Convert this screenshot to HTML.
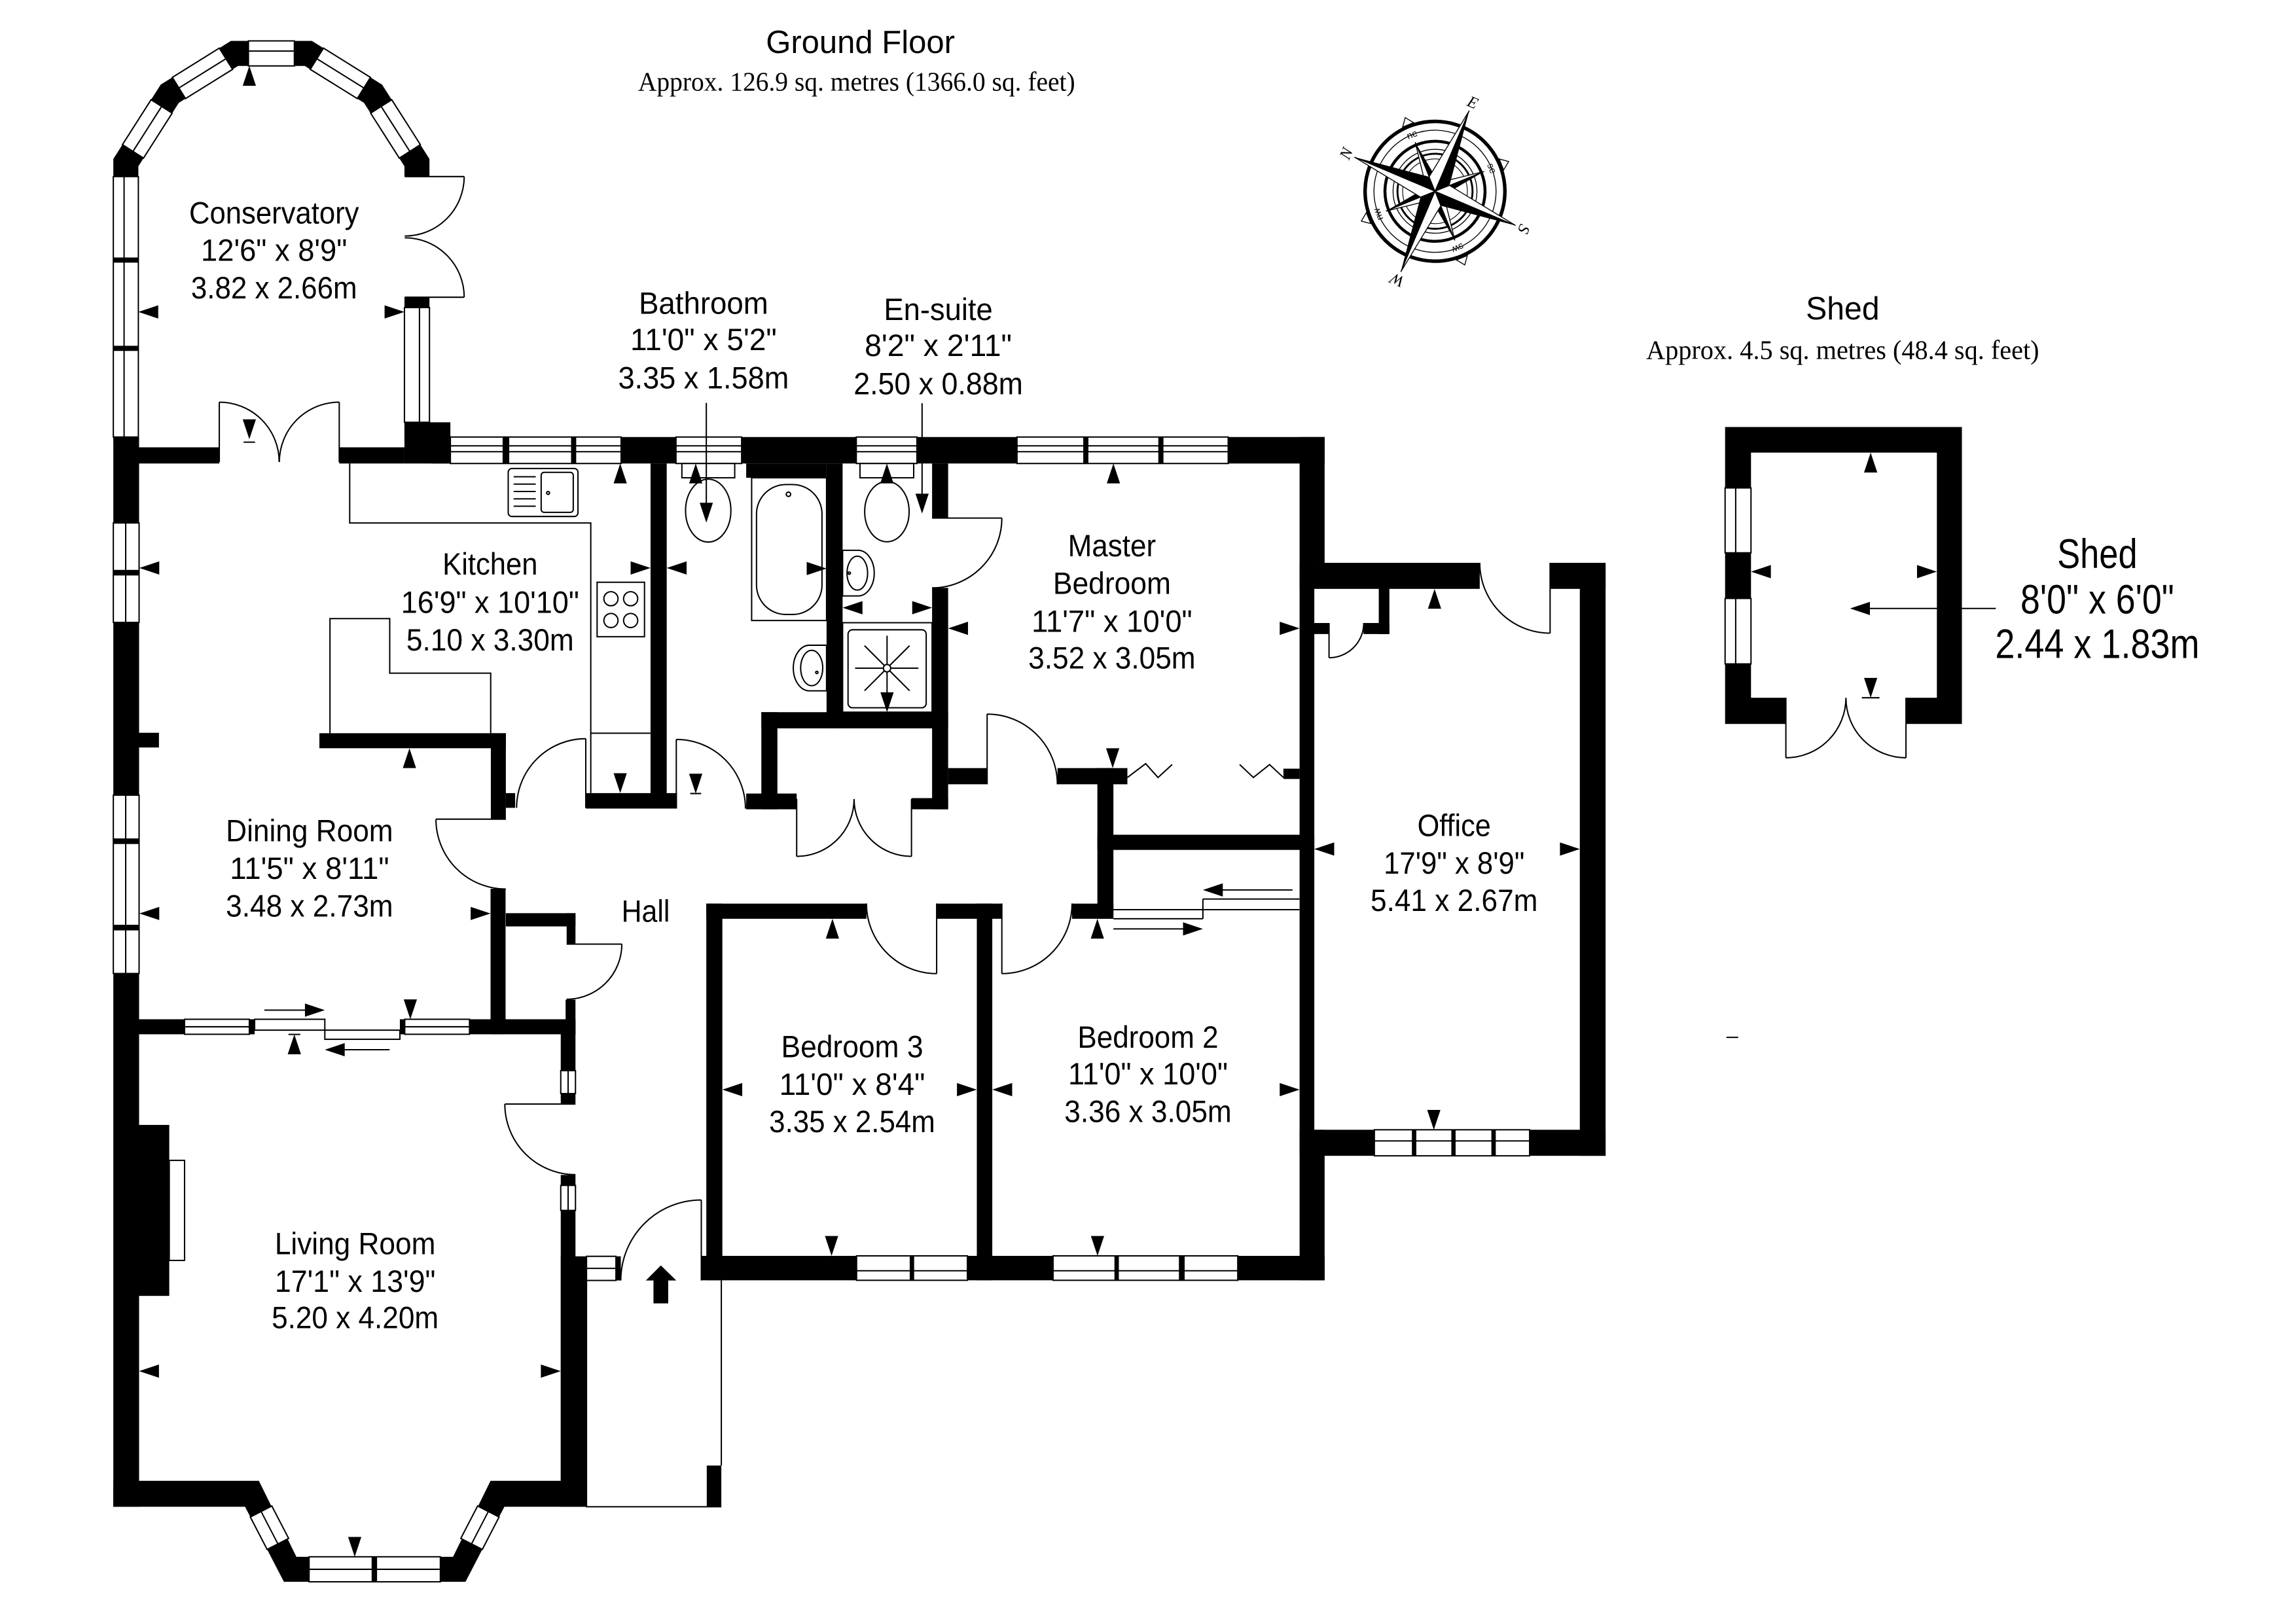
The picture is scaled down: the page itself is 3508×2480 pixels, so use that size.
<!DOCTYPE html>
<html>
<head>
<meta charset="utf-8">
<style>
html,body{margin:0;padding:0;background:#fff;}
svg{display:block;}
.win{fill:#fff;stroke:#000;stroke-width:.9}
.ln{fill:none;stroke:#000;stroke-width:.9}
.lw{fill:#fff;stroke:#000;stroke-width:.9}
text.t{font-family:"Liberation Sans",Arial,sans-serif;font-size:21px;text-anchor:middle;fill:#000}
text.s{font-family:"Liberation Serif","Times New Roman",serif;text-anchor:middle;fill:#000}
</style>
</head>
<body>
<svg width="3508" height="2480" viewBox="0 0 1560 1103" preserveAspectRatio="none">
<rect x="0" y="0" width="1560" height="1103" fill="#fff"/>

<!-- ===== WALLS ===== -->
<g fill="#000">
<polygon points="77,300 77,108 109.2,57.5 156.9,27.8 211.9,27.8 259.6,57.5 291.8,108 291.8,300 274.8,300 274.8,113 247.3,69.9 207.05,44.8 161.75,44.8 121.5,69.9 94,113 94,300"/>
<rect x="77" y="297" width="17.5" height="727"/>
<rect x="293" y="297" width="607" height="18"/>
<rect x="274.8" y="287" width="31.2" height="28"/>
<rect x="94" y="304" width="55" height="11"/>
<rect x="230.5" y="304" width="44.3" height="11"/>
<rect x="883" y="297" width="17" height="85.5"/>
<rect x="883" y="382.5" width="122.4" height="17.7"/>
<rect x="1053.2" y="382.5" width="37.7" height="17.7"/>
<rect x="1073.4" y="382.5" width="17.5" height="403"/>
<rect x="883" y="767.8" width="207.9" height="17.7"/>
<rect x="883" y="382.5" width="10" height="386"/>
<rect x="883" y="767.8" width="17" height="102.3"/>
<rect x="936.8" y="400" width="7.2" height="30.9"/>
<rect x="926.4" y="423.4" width="17.6" height="7.5"/>
<rect x="892.8" y="423.4" width="10.2" height="7.5"/>
<rect x="476.5" y="853.5" width="423.5" height="16.6"/>
<rect x="479.9" y="614.1" width="10.9" height="256"/>
<rect x="479.9" y="614.1" width="108.8" height="10.3"/>
<rect x="636.4" y="614.1" width="44.3" height="10.3"/>
<rect x="728.4" y="614.1" width="28.1" height="10.3"/>
<rect x="663.7" y="614.1" width="10.5" height="256"/>
<rect x="745.6" y="522" width="10.9" height="102.4"/>
<rect x="644.2" y="522" width="26.5" height="11"/>
<rect x="718.5" y="522" width="47.5" height="11"/>
<rect x="872" y="522.4" width="11" height="7"/>
<rect x="745.6" y="567.3" width="147.4" height="10.3"/>
<rect x="517.3" y="484" width="10.9" height="66"/>
<rect x="517.3" y="484" width="126.9" height="11"/>
<rect x="633.3" y="399.5" width="10.9" height="150.5"/>
<rect x="633.3" y="315" width="10.9" height="37.1"/>
<rect x="507" y="539.3" width="34.3" height="10.7"/>
<rect x="619.3" y="542.4" width="24.9" height="7.6"/>
<rect x="561.6" y="315" width="10.9" height="180"/>
<rect x="507" y="315" width="54.6" height="9.7"/>
<rect x="442" y="315" width="11" height="234.5"/>
<rect x="398" y="539" width="62" height="10.5"/>
<rect x="333.5" y="498.3" width="10.2" height="58.4"/>
<rect x="343.7" y="539" width="6.3" height="10"/>
<rect x="217" y="498.3" width="126.7" height="10.2"/>
<rect x="94.5" y="498" width="13.5" height="10"/>
<rect x="333.3" y="604" width="10.2" height="98.9"/>
<rect x="94.5" y="692.7" width="296.5" height="10.2"/>
<rect x="381" y="692.7" width="10" height="313.7"/>
<rect x="381" y="853.8" width="17.5" height="170.2"/>
<rect x="343.7" y="620.6" width="47.3" height="9"/>
<rect x="385" y="620.6" width="6" height="21"/>
<rect x="384.3" y="679.4" width="6.7" height="23.5"/>
<rect x="94.5" y="764.5" width="20.5" height="116.2"/>
<polygon points="77,1006.4 175.9,1006.4 201.4,1058 307.8,1058 333.3,1006.4 398.5,1006.4 398.5,1024 342.7,1024 316.3,1075 192.9,1075 166.5,1024 77,1024"/>
<rect x="418.5" y="853.8" width="3.3" height="16.4"/>
<rect x="480.2" y="996" width="9.9" height="28"/>
<rect x="1172.1" y="290.2" width="160.9" height="201.8"/>
</g>

<!-- openings -->
<g fill="#fff">
<rect x="1189.7" y="307.6" width="126.3" height="166.6"/>
<rect x="1213.4" y="473" width="81.6" height="20"/>
<rect x="274" y="120" width="18.6" height="82"/>
<rect x="380.5" y="750.3" width="11" height="48.2"/>
<rect x="173" y="692.2" width="98.7" height="11.2"/>
</g>

<!-- ===== WINDOWS ===== -->
<g class="win">
<rect x="77" y="120" width="17" height="177"/>
<rect x="274.8" y="209" width="17" height="78"/>
<rect x="168.8" y="27.8" width="31.2" height="17"/>
<polygon points="83.18,98.3 102.64,67.78 116.97,76.92 97.51,107.44"/>
<polygon points="117.09,52.58 149.01,32.71 157.99,47.14 126.07,67.01"/>
<polygon points="285.62,98.3 266.16,67.78 251.83,76.92 271.29,107.44"/>
<polygon points="251.71,52.58 219.79,32.71 210.81,47.14 242.73,67.01"/>
<rect x="77" y="355.4" width="17.5" height="67.6"/>
<rect x="77" y="540.4" width="17.5" height="121.2"/>
<rect x="306" y="297" width="116" height="18"/>
<rect x="459.3" y="297" width="44.6" height="18"/>
<rect x="581.8" y="297" width="41.2" height="18"/>
<rect x="691" y="297" width="143.5" height="18"/>
<rect x="933.8" y="767.8" width="105.5" height="17.7"/>
<rect x="582" y="853.5" width="75.3" height="16.6"/>
<rect x="715.5" y="853.5" width="125.5" height="16.6"/>
<rect x="125.4" y="692.7" width="44" height="10.2"/>
<rect x="275" y="692.7" width="44" height="10.2"/>
<rect x="381" y="727.6" width="10" height="15.6"/>
<rect x="381" y="805.6" width="10" height="17"/>
<rect x="398.5" y="853.8" width="20" height="16.4"/>
<rect x="1172.1" y="331.6" width="17.6" height="44.1"/>
<rect x="1172.1" y="406.7" width="17.6" height="44.5"/>
<rect x="210" y="1058" width="89.2" height="17"/>
<polygon points="170.1,1031 181.5,1053 196.1,1045.5 184.7,1023.5"/>
<polygon points="339.1,1031 327.7,1053 313.1,1045.5 324.5,1023.5"/>
<rect x="173" y="692.7" width="47.7" height="7.4"/>
<rect x="220.7" y="700.1" width="51" height="6.2"/>
</g>

<path class="ln" d="M84.3,120V297 M285,209V287 M168.8,34.7H200 M90.35,102.87L109.81,72.35 M121.58,59.79L153.5,39.92 M278.45,102.87L258.99,72.35 M247.22,59.79L215.3,39.92 M85.4,355.4V423 M85.4,540.4V661.6 M306,303H422 M306,307H422 M459.3,303H503.9 M459.3,307H503.9 M581.8,303H623 M581.8,307H623 M691,303H834.5 M691,307H834.5 M933.8,775.4H1039.3 M582,863.6H657.3 M715.5,863.6H841 M125.4,697.8H169.4 M275,697.8H319 M386,727.6V743.2 M386,805.6V822.6 M398.5,862H418.5 M1179.3,331.6V375.7 M1179.3,406.7V451.2 M210,1066.5H299.2 M177.4,1027.2L188.8,1049.2 M331.8,1027.2L320.4,1049.2"/>

<!-- mullions -->
<g fill="#000">
<rect x="77" y="175" width="17" height="3.5"/>
<rect x="77" y="235" width="17" height="3.5"/>
<rect x="77" y="387.3" width="17.5" height="3.8"/>
<rect x="77" y="569.8" width="17.5" height="3.8"/>
<rect x="77" y="628.5" width="17.5" height="3.8"/>
<rect x="341.5" y="297" width="4.5" height="18"/>
<rect x="388" y="297" width="3.5" height="18"/>
<rect x="736" y="297" width="3.5" height="18"/>
<rect x="787" y="297" width="3.5" height="18"/>
<rect x="959.3" y="767.8" width="3" height="17.7"/>
<rect x="986.1" y="767.8" width="2.9" height="17.7"/>
<rect x="1013.3" y="767.8" width="3" height="17.7"/>
<rect x="618.1" y="853.5" width="3" height="16.6"/>
<rect x="757.2" y="853.5" width="3" height="16.6"/>
<rect x="801" y="853.5" width="3.9" height="16.6"/>
<rect x="252.5" y="1058" width="3.7" height="17"/>
<rect x="169.4" y="692.7" width="3.6" height="10.2"/>
<rect x="271.7" y="692.7" width="3.3" height="10.2"/>
</g>

<!-- ===== DOORS ===== -->
<path class="ln" d="M275,120H315.4 M315.4,120A40.4,40.4 0 0 1 275,160.4
M275,202H315.4 M315.4,202A40.4,40.4 0 0 0 275,161.6
M149,314V273.3 M149,273.3A40.7,40.7 0 0 1 189.7,314
M230.5,314V273.3 M230.5,273.3A40.7,40.7 0 0 0 189.8,314
M343.7,556.7H296.2 M296.2,556.7A47.5,47.5 0 0 0 343.7,604.2
M398,549V502 M398,502A47,47 0 0 0 351,549
M459.5,549.5V502.5 M459.5,502.5A47,47 0 0 1 506.5,549.5
M541.3,543V582 M541.3,582A39,39 0 0 0 580.3,543
M619.3,543V582 M619.3,582A39,39 0 0 1 580.3,543
M670.7,533V485.3 M670.7,485.3A47.7,47.7 0 0 1 718.4,533
M633.3,352.1H680.7 M680.7,352.1A47.4,47.4 0 0 1 633.3,399.5
M636.4,614V661.7 M636.4,661.7A47.7,47.7 0 0 1 588.7,614
M680.7,614V661.7 M680.7,661.7A47.7,47.7 0 0 0 728.4,614
M385,641.6H422.5 M422.5,641.6A37.5,37.5 0 0 1 385,679.1
M391,750.3H343 M343,750.3A48,48 0 0 0 391,798.3
M476.5,870.2V815.5 M476.5,815.5A54.7,54.7 0 0 0 421.8,870.2
M1053.2,382.5V430.3 M1053.2,430.3A47.8,47.8 0 0 1 1005.4,382.5
M903,423.4V447 M903,447A23.6,23.6 0 0 0 926.6,423.4
M1213.4,474.2V515 M1213.4,515A40.8,40.8 0 0 0 1254.2,474.2
M1295,474.2V515 M1295,515A40.8,40.8 0 0 1 1254.2,474.2"/>

<!-- ===== FIXTURES ===== -->
<path class="ln" d="M237.6,315V355.4H401.4V539 M401.4,498.3H442 M224.2,498.3V420.4H264.8V457.5H333.4V498.3"/>
<rect class="lw" x="345.3" y="318.4" width="47.4" height="32.6" rx="2.5"/>
<rect class="lw" x="367.7" y="321" width="21.8" height="27.2" rx="2"/>
<path class="ln" d="M349,324H364 M349,329H364 M349,334H364 M349,339H364 M349,344H364"/>
<circle class="ln" cx="372.4" cy="335" r="1"/>
<rect class="lw" x="405.7" y="395.7" width="32.2" height="37"/>
<circle class="ln" cx="415.1" cy="406.9" r="4.8"/>
<circle class="ln" cx="428.5" cy="406.9" r="4.8"/>
<circle class="ln" cx="415.1" cy="421.7" r="4.8"/>
<circle class="ln" cx="428.5" cy="421.7" r="4.8"/>
<!-- bathroom -->
<rect class="lw" x="463.3" y="315" width="35.9" height="9.7"/>
<ellipse class="lw" cx="481.2" cy="347" rx="15.4" ry="21.4"/>
<rect class="lw" x="510.7" y="324.7" width="50.9" height="97"/>
<rect class="lw" x="514" y="329.3" width="44.5" height="88.3" rx="20"/>
<circle class="ln" cx="535.7" cy="335.9" r="1.5"/>
<path class="lw" d="M561.6,438.5H550A11,15.5 0 0 0 550,469.5H561.6Z"/>
<ellipse class="ln" cx="551.5" cy="454" rx="7.5" ry="12"/>
<circle class="ln" cx="555" cy="457" r=".8"/>
<!-- ensuite -->
<rect class="lw" x="584.3" y="315" width="36.5" height="9.7"/>
<ellipse class="lw" cx="602.6" cy="347.7" rx="15.1" ry="20.5"/>
<path class="lw" d="M572.5,374H583A11,15.5 0 0 1 583,405H572.5Z"/>
<ellipse class="ln" cx="582.5" cy="389.5" rx="7" ry="11.5"/>
<circle class="ln" cx="577" cy="389.5" r=".8"/>
<rect class="lw" x="572.5" y="423.2" width="60.8" height="60.8"/>
<rect class="ln" x="576.2" y="428" width="53.1" height="53" rx="3"/>
<circle class="ln" cx="602.7" cy="454.1" r="2.5"/>
<path class="ln" d="M605.5,454.1H624 M599.9,454.1H581 M602.7,451.3V432 M602.7,456.9V476 M604.7,452.1L618,438.8 M600.7,452.1L587.4,438.8 M604.7,456.1L618,469.4 M600.7,456.1L587.4,469.4"/>
<!-- fireplace hearth -->
<rect class="lw" x="115" y="788.6" width="10.4" height="68"/>
<!-- porch, wardrobes, closets, leaders -->
<path class="ln" d="M398.5,870.2V1024H490.1 M490.1,870.2V996
M766,528.4L778.4,519L786.8,528.4L796.4,519.6 M842.3,519.6L851.6,528.4L862.6,519.6L872,528.4
M817.3,611H882.9 M817.3,611V624.4 M756.5,618.2H882.9 M756.5,624.4H817.3
M878.2,604.8H830 M756.5,631.3H804 M179.6,686.5H208 M234,713.4H264.7
M479.9,273.8V342 M626.5,274V336 M1270,413.5H1356
M165.5,300.5H173.3 M469,539.3H476.4 M196,703H204 M1265,474.2H1277 M1173,705H1181"/>

<!-- ===== ARROWS ===== -->
<g fill="#000">
<polygon points="169.4,44.8 164.9,58.3 173.9,58.3"/>
<polygon points="94,212 107.5,207.5 107.5,216.5"/>
<polygon points="274.8,212 261.3,207.5 261.3,216.5"/>
<polygon points="169.4,298.5 164.9,285 173.9,285"/>
<polygon points="421.4,315 416.9,328.5 425.9,328.5"/>
<polygon points="94.7,386 108.2,381.5 108.2,390.5"/>
<polygon points="442,386 428.5,381.5 428.5,390.5"/>
<polygon points="421.4,539 416.9,525.5 425.9,525.5"/>
<polygon points="453,386 466.5,381.5 466.5,390.5"/>
<polygon points="472.7,315 468.2,328.5 477.2,328.5"/>
<polygon points="479.9,355.2 475.4,341.7 484.4,341.7"/>
<polygon points="561.6,386.4 548.1,381.9 548.1,390.9"/>
<polygon points="472.7,539.3 468.2,525.8 477.2,525.8"/>
<polygon points="602.6,315 598.1,328.5 607.1,328.5"/>
<polygon points="626.5,349 622,335.5 631,335.5"/>
<polygon points="572.5,413 586,408.5 586,417.5"/>
<polygon points="633.3,413 619.8,408.5 619.8,417.5"/>
<polygon points="602.7,484 598.2,470.5 607.2,470.5"/>
<polygon points="756.5,315 752,328.5 761,328.5"/>
<polygon points="644.2,427 657.7,422.5 657.7,431.5"/>
<polygon points="883,427 869.5,422.5 869.5,431.5"/>
<polygon points="756,522 751.5,508.5 760.5,508.5"/>
<polygon points="974.7,400.2 970.2,413.7 979.2,413.7"/>
<polygon points="893,577 906.5,572.5 906.5,581.5"/>
<polygon points="1073.4,577 1059.9,572.5 1059.9,581.5"/>
<polygon points="974.2,767.8 969.7,754.3 978.7,754.3"/>
<polygon points="278.2,508.5 273.7,522 282.7,522"/>
<polygon points="94.7,620.8 108.2,616.3 108.2,625.3"/>
<polygon points="333.3,620.8 319.8,616.3 319.8,625.3"/>
<polygon points="278.8,692.7 274.3,679.2 283.3,679.2"/>
<polygon points="200,703 195.5,716.5 204.5,716.5"/>
<polygon points="94.5,931.8 108,927.3 108,936.3"/>
<polygon points="381,931.8 367.5,927.3 367.5,936.3"/>
<polygon points="241,1058 236.5,1044.5 245.5,1044.5"/>
<polygon points="565.6,624.4 561.1,637.9 570.1,637.9"/>
<polygon points="490.8,740.5 504.3,736 504.3,745"/>
<polygon points="663.7,740.5 650.2,736 650.2,745"/>
<polygon points="565,853.5 560.5,840 569.5,840"/>
<polygon points="745.6,624.4 741.1,637.9 750.1,637.9"/>
<polygon points="674.2,740.5 687.7,736 687.7,745"/>
<polygon points="883,740.5 869.5,736 869.5,745"/>
<polygon points="745.7,853.5 741.2,840 750.2,840"/>
<polygon points="1271,307.6 1266.5,321.1 1275.5,321.1"/>
<polygon points="1189.7,388.5 1203.2,384 1203.2,393"/>
<polygon points="1316,388.5 1302.5,384 1302.5,393"/>
<polygon points="1271,474.2 1266.5,460.7 1275.5,460.7"/>
<polygon points="1257,413.5 1270.5,409 1270.5,418"/>
<polygon points="817.3,604.8 830.8,600.3 830.8,609.3"/>
<polygon points="817.3,631.3 803.8,626.8 803.8,635.8"/>
<polygon points="220.7,686.5 207.2,682 207.2,691"/>
<polygon points="220.7,713.4 234.2,708.9 234.2,717.9"/>
<polygon points="449,860 438.8,870.2 444,870.2 444,885.8 454,885.8 454,870.2 459.5,870.2"/>
</g>

<!-- ===== COMPASS ===== -->
<g transform="translate(975,130) rotate(-67)">
<circle r="47.5" fill="#fff" stroke="#000" stroke-width="2.4"/>
<circle r="41.5" fill="none" stroke="#000" stroke-width="0.6"/>
<circle r="34" fill="none" stroke="#000" stroke-width="2"/>
<circle r="28.5" fill="none" stroke="#000" stroke-width="0.6"/>
<circle r="25.5" fill="none" stroke="#000" stroke-width="1.3"/>
<circle r="22" fill="none" stroke="#000" stroke-width="0.5"/>
<g fill="#fff" stroke="#000" stroke-width="0.6">
<polygon transform="rotate(45)" points="-4,-48.7 4,-48.7 0,-54"/>
<polygon transform="rotate(135)" points="-4,-48.7 4,-48.7 0,-54"/>
<polygon transform="rotate(225)" points="-4,-48.7 4,-48.7 0,-54"/>
<polygon transform="rotate(315)" points="-4,-48.7 4,-48.7 0,-54"/>
</g>
<g transform="rotate(45)"><polygon points="0,0 0,-36 4.5,-5" fill="#000"/><polygon points="0,0 0,-36 -4.5,-5" fill="#fff" stroke="#000" stroke-width="0.6"/></g>
<g transform="rotate(135)"><polygon points="0,0 0,-36 4.5,-5" fill="#000"/><polygon points="0,0 0,-36 -4.5,-5" fill="#fff" stroke="#000" stroke-width="0.6"/></g>
<g transform="rotate(225)"><polygon points="0,0 0,-36 4.5,-5" fill="#000"/><polygon points="0,0 0,-36 -4.5,-5" fill="#fff" stroke="#000" stroke-width="0.6"/></g>
<g transform="rotate(315)"><polygon points="0,0 0,-36 4.5,-5" fill="#000"/><polygon points="0,0 0,-36 -4.5,-5" fill="#fff" stroke="#000" stroke-width="0.6"/></g>
<g transform="rotate(0)"><polygon points="0,0 0,-59.5 7.5,-7.5" fill="#000"/><polygon points="0,0 0,-59.5 -7.5,-7.5" fill="#fff" stroke="#000" stroke-width="0.6"/></g>
<g transform="rotate(90)"><polygon points="0,0 0,-59.5 7.5,-7.5" fill="#000"/><polygon points="0,0 0,-59.5 -7.5,-7.5" fill="#fff" stroke="#000" stroke-width="0.6"/></g>
<g transform="rotate(180)"><polygon points="0,0 0,-59.5 7.5,-7.5" fill="#000"/><polygon points="0,0 0,-59.5 -7.5,-7.5" fill="#fff" stroke="#000" stroke-width="0.6"/></g>
<g transform="rotate(270)"><polygon points="0,0 0,-59.5 7.5,-7.5" fill="#000"/><polygon points="0,0 0,-59.5 -7.5,-7.5" fill="#fff" stroke="#000" stroke-width="0.6"/></g>
<g font-family="Liberation Serif, serif" font-style="italic" font-size="11" text-anchor="middle">
<text x="0" y="-62">N</text>
<text x="0" y="-62" transform="rotate(90)">E</text>
<text x="0" y="-62" transform="rotate(180)">S</text>
<text x="0" y="-62" transform="rotate(270)">W</text>
</g>
<g font-family="Liberation Sans, sans-serif" font-size="6.5" text-anchor="middle">
<text x="0" y="-39.5" transform="rotate(45)">ne</text>
<text x="0" y="-39.5" transform="rotate(135)">se</text>
<text x="0" y="-39.5" transform="rotate(225)">sw</text>
<text x="0" y="-39.5" transform="rotate(315)">nw</text>
</g>
</g>

<!-- ===== TITLES ===== -->
<text class="t" x="584.6" y="36" style="font-size:22px" textLength="128.4" lengthAdjust="spacingAndGlyphs">Ground Floor</text>
<text class="s" x="582" y="61.5" font-size="18.5" textLength="297" lengthAdjust="spacingAndGlyphs">Approx. 126.9 sq. metres (1366.0 sq. feet)</text>
<text class="t" x="1252" y="217" style="font-size:22px" textLength="50" lengthAdjust="spacingAndGlyphs">Shed</text>
<text class="s" x="1252" y="244" font-size="18.5" textLength="267" lengthAdjust="spacingAndGlyphs">Approx. 4.5 sq. metres (48.4 sq. feet)</text>

<!-- ===== ROOM LABELS ===== -->
<text class="t" x="186.2" y="151.8" textLength="115.4" lengthAdjust="spacingAndGlyphs">Conservatory</text>
<text class="t" x="186.2" y="177.2" textLength="99.3" lengthAdjust="spacingAndGlyphs">12'6&quot; x 8'9&quot;</text>
<text class="t" x="186.2" y="202.8" textLength="112.8" lengthAdjust="spacingAndGlyphs">3.82 x 2.66m</text>

<text class="t" x="478" y="213.3" textLength="88" lengthAdjust="spacingAndGlyphs">Bathroom</text>
<text class="t" x="478" y="238" textLength="99.5" lengthAdjust="spacingAndGlyphs">11'0&quot; x 5'2&quot;</text>
<text class="t" x="478" y="264" textLength="116" lengthAdjust="spacingAndGlyphs">3.35 x 1.58m</text>

<text class="t" x="637.5" y="217.5" textLength="74" lengthAdjust="spacingAndGlyphs">En-suite</text>
<text class="t" x="637.5" y="242" textLength="100" lengthAdjust="spacingAndGlyphs">8'2&quot; x 2'11&quot;</text>
<text class="t" x="637.5" y="268" textLength="115" lengthAdjust="spacingAndGlyphs">2.50 x 0.88m</text>

<text class="t" x="333" y="390.6" textLength="64.6" lengthAdjust="spacingAndGlyphs">Kitchen</text>
<text class="t" x="333" y="416.6" textLength="121" lengthAdjust="spacingAndGlyphs">16'9&quot; x 10'10&quot;</text>
<text class="t" x="333" y="442.1" textLength="113.8" lengthAdjust="spacingAndGlyphs">5.10 x 3.30m</text>

<text class="t" x="755.5" y="378" textLength="59.8" lengthAdjust="spacingAndGlyphs">Master</text>
<text class="t" x="755.5" y="403.6" textLength="80.1" lengthAdjust="spacingAndGlyphs">Bedroom</text>
<text class="t" x="755.5" y="429.5" textLength="109.2" lengthAdjust="spacingAndGlyphs">11'7&quot; x 10'0&quot;</text>
<text class="t" x="755.5" y="454.4" textLength="113.6" lengthAdjust="spacingAndGlyphs">3.52 x 3.05m</text>

<text class="t" x="210.3" y="571.8" textLength="113.6" lengthAdjust="spacingAndGlyphs">Dining Room</text>
<text class="t" x="210.3" y="597.3" textLength="108.2" lengthAdjust="spacingAndGlyphs">11'5&quot; x 8'11&quot;</text>
<text class="t" x="210.3" y="622.9" textLength="113.6" lengthAdjust="spacingAndGlyphs">3.48 x 2.73m</text>

<text class="t" x="438.7" y="626.4" textLength="32.8" lengthAdjust="spacingAndGlyphs">Hall</text>

<text class="t" x="988" y="568.1" textLength="49.9" lengthAdjust="spacingAndGlyphs">Office</text>
<text class="t" x="988" y="593.7" textLength="95.7" lengthAdjust="spacingAndGlyphs">17'9&quot; x 8'9&quot;</text>
<text class="t" x="988" y="619.2" textLength="113.6" lengthAdjust="spacingAndGlyphs">5.41 x 2.67m</text>

<text class="t" x="579" y="718.5" textLength="96.5" lengthAdjust="spacingAndGlyphs">Bedroom 3</text>
<text class="t" x="579" y="744" textLength="99.1" lengthAdjust="spacingAndGlyphs">11'0&quot; x 8'4&quot;</text>
<text class="t" x="579" y="769.5" textLength="112.8" lengthAdjust="spacingAndGlyphs">3.35 x 2.54m</text>

<text class="t" x="780" y="712.1" textLength="95.7" lengthAdjust="spacingAndGlyphs">Bedroom 2</text>
<text class="t" x="780" y="737" textLength="108.5" lengthAdjust="spacingAndGlyphs">11'0&quot; x 10'0&quot;</text>
<text class="t" x="780" y="762.5" textLength="113.6" lengthAdjust="spacingAndGlyphs">3.36 x 3.05m</text>

<text class="t" x="241.3" y="852.4" textLength="109.2" lengthAdjust="spacingAndGlyphs">Living Room</text>
<text class="t" x="241.3" y="877.9" textLength="109.2" lengthAdjust="spacingAndGlyphs">17'1&quot; x 13'9&quot;</text>
<text class="t" x="241.3" y="902.6" textLength="113.4" lengthAdjust="spacingAndGlyphs">5.20 x 4.20m</text>

<text class="t" x="1425" y="386.1" style="font-size:28px" textLength="54.4" lengthAdjust="spacingAndGlyphs">Shed</text>
<text class="t" x="1425" y="417" style="font-size:28px" textLength="104.4" lengthAdjust="spacingAndGlyphs">8'0&quot; x 6'0&quot;</text>
<text class="t" x="1425" y="447.2" style="font-size:28px" textLength="138.8" lengthAdjust="spacingAndGlyphs">2.44 x 1.83m</text>
</svg>
</body>
</html>
